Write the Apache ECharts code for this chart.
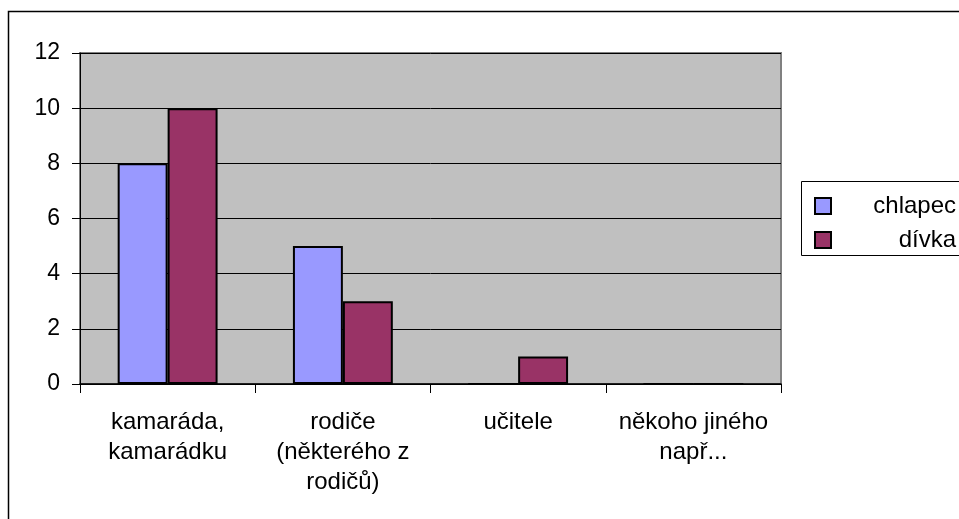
<!DOCTYPE html>
<html>
<head>
<meta charset="utf-8">
<script src="https://cdn.jsdelivr.net/npm/echarts@6/dist/echarts.min.js"></script>
<style>
  html, body { margin: 0; padding: 0; background: #fff; }
  #chart { width: 959px; height: 519px; }
</style>
</head>
<body>
<div id="chart"></div>
<script>
// Categories (line breaks as printed under the axis)
const categories = [
  'kamaráda,\nkamarádku',
  'rodiče\n(některého z\nrodičů)',
  'učitele',
  'někoho jiného\nnapř...'
];
const seriesNames = ['chlapec', 'dívka'];
const boys = [8, 5, 0, 0];
const girls = [10, 3, 1, 0];
const yTicks = { min: 0, max: 12, interval: 2 };

const FONT = 'Liberation Sans, Arial, sans-serif';
const chart = echarts.init(document.getElementById('chart'), null, { renderer: 'canvas' });

chart.setOption({
  animation: false,
  textStyle: { fontFamily: FONT },
  graphic: [
    // outer chart frame
    { type: 'rect', z: 0, shape: { x: 8.5, y: 11.5, width: 1000, height: 600 },
      style: { fill: 'none', stroke: '#000', lineWidth: 1.5 } },
    // legend frame
    { type: 'rect', z: 1, shape: { x: 801.5, y: 181.5, width: 300, height: 74 },
      style: { fill: '#fff', stroke: '#000', lineWidth: 1 } }
  ],
  grid: {
    left: 80, right: 178, top: 53, bottom: 135,
    show: true, backgroundColor: '#C0C0C0', borderColor: '#808080', borderWidth: 2
  },
  legend: {
    orient: 'vertical', left: 809, top: 189, itemGap: 10,
    itemWidth: 16, itemHeight: 16, icon: 'rect', z: 5,
    data: seriesNames,
    formatter: n => '{t|' + n + '}',
    textStyle: {
      fontFamily: FONT, fontSize: 24, color: '#000',
      rich: { t: { width: 120, align: 'right', fontSize: 24, fontFamily: FONT, lineHeight: 24 } }
    }
  },
  xAxis: {
    type: 'category', data: categories,
    axisLine: { lineStyle: { color: '#000', width: 1.5 } },
    axisTick: { show: true, length: 9, lineStyle: { color: '#000' } },
    axisLabel: { color: '#000', fontSize: 24, lineHeight: 30, margin: 23, interval: 0, fontFamily: FONT }
  },
  yAxis: {
    type: 'value', min: yTicks.min, max: yTicks.max, interval: yTicks.interval,
    axisLine: { show: true, lineStyle: { color: '#000', width: 1 } },
    axisTick: { show: true, length: 8, lineStyle: { color: '#000' } },
    splitLine: { show: true, lineStyle: { color: '#000', width: 1 } },
    axisLabel: { color: '#000', fontSize: 23, margin: 20, fontFamily: FONT }
  },
  series: [
    { name: seriesNames[0], type: 'bar', data: boys, barGap: '0%', barCategoryGap: '43%',
      itemStyle: { color: '#9999FF', borderColor: '#000', borderWidth: 2 } },
    { name: seriesNames[1], type: 'bar', data: girls,
      itemStyle: { color: '#993366', borderColor: '#000', borderWidth: 2 } }
  ]
});
</script>
</body>
</html>
